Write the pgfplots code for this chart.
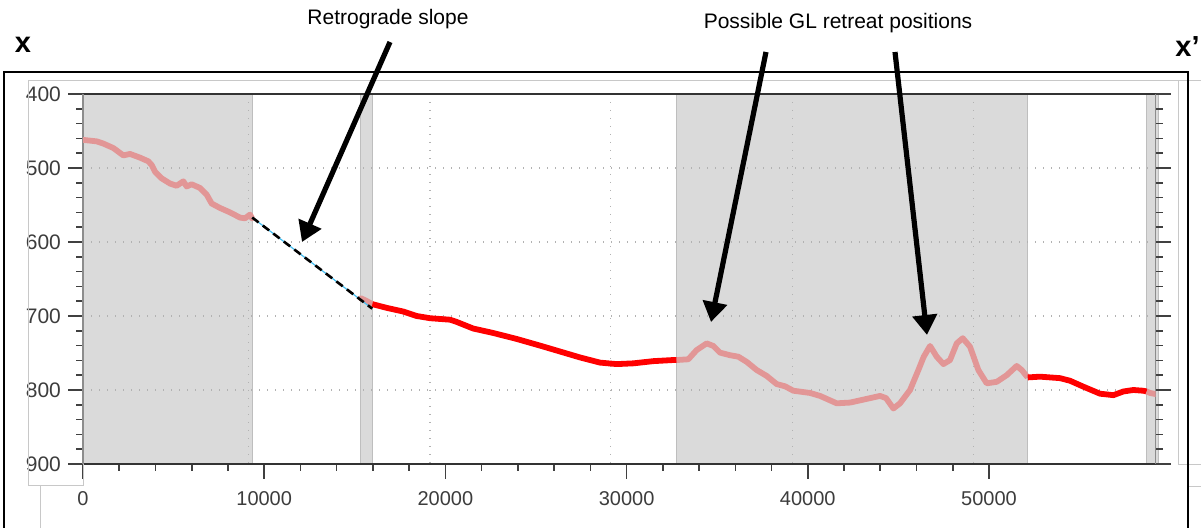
\documentclass[border=0pt]{standalone}
\usepackage{fontspec}
\setmainfont{Liberation Sans}
\usepackage{pgfplots}
\pgfplotsset{compat=1.18}
\usetikzlibrary{arrows.meta}

\definecolor{bandfill}{RGB}{218,218,218}
\definecolor{bandedge}{RGB}{190,190,190}
\definecolor{pinkline}{RGB}{226,150,150}
\definecolor{tickgray}{RGB}{60,60,60}
\definecolor{boxgray}{RGB}{200,200,200}
\definecolor{lightblue}{RGB}{70,190,240}

\begin{document}
\begin{tikzpicture}
\begin{axis}[
  at={(41.5pt,-232pt)}, anchor=south west,
  scale only axis, width=536.25pt, height=185pt,
  xmin=0, xmax=59190, ymin=400, ymax=900, y dir=reverse,
  set layers,
  separate axis lines,
  x axis line style={draw=black!80, line width=0.9pt},
  y axis line style={draw=black!45, line width=0.6pt},
  xtick={0,10000,...,50000},
  ytick={400,500,...,900},
  minor x tick num=4, minor y tick num=4,
  xtick pos=left, ytick pos=both,
  tick align=outside,
  major tick length=7.5pt, minor tick length=3.5pt,
  tick style={draw=black!75, line width=0.8pt},
  ymajorgrids,
  grid style={draw=gray!60, line width=0.7pt, dash pattern=on 0.7pt off 3.3pt},
  extra x ticks={9140,19140,29120,39140,49140},
  extra x tick labels={},
  extra x tick style={grid=major, tick style={draw=none}},
  xticklabel style={font=\fontsize{10}{12}\selectfont, text=tickgray, yshift=-2.5pt},
  yticklabel style={font=\fontsize{10.5}{12}\selectfont, text=tickgray},
  /pgf/number format/assume math mode=true,
  /pgf/number format/1000 sep={},
  scaled x ticks=false,
]
% shaded bands
\addplot[fill=bandfill, draw=bandedge, line width=0.5pt, on layer=axis background]
  coordinates {(0,400)(9344,400)(9344,900)(0,900)} -- cycle;
\addplot[fill=bandfill, draw=bandedge, line width=0.5pt, on layer=axis background]
  coordinates {(15326,400)(15967,400)(15967,900)(15326,900)} -- cycle;
\addplot[fill=bandfill, draw=bandedge, line width=0.5pt, on layer=axis background]
  coordinates {(32766,400)(52137,400)(52137,900)(32766,900)} -- cycle;
\addplot[fill=bandfill, draw=bandedge, line width=0.5pt, on layer=axis background]
  coordinates {(58705,400)(59330,400)(59330,900)(58705,900)} -- cycle;

% profile, faded inside bands
\addplot[pinkline, line width=2.9pt, line join=round, line cap=round] coordinates {
(0,462)(755,464)(1122,467)(1674,473)(2226,483)(2594,481)(3146,486)(3606,491)
(3790,496)(3974,505)(4342,514)(4801,521)(5170,524)(5537,518)(5721,525)(5997,522)
(6457,527)(6825,536)(7101,548)(7561,554)(8113,560)(8665,567)(8941,568)(9217,563)(9330,568)};
\addplot[pinkline, line width=2.9pt, line cap=round] coordinates {
(15330,676)(15600,679)(15970,684)};
\addplot[red, line width=2.9pt, line join=round] coordinates {
(15970,684)(16761,689)(17676,694)(18411,700)(19151,703)(20255,705)(20623,708)
(21543,717)(22646,723)(23934,731)(25222,740)(26326,748)(27429,756)(28533,763)
(29455,765)(30370,764)(31474,761)(32578,759.5)(32766,759.5)};
\addplot[pinkline, line width=2.9pt, line join=round] coordinates {
(32766,759.5)(33407,758.5)(33868,746)(34420,737)(34788,740.5)(35156,749.5)(35708,753)
(36168,755)(36628,762)(37180,773)(37732,781)(38284,792)(38744,795)(39204,801)
(40125,804)(40677,808)(41597,818)(42333,817)(43068,813)(43988,808)(44320,811)
(44724,825)(45092,818)(45644,800)(46104,773)(46400,755)(46748,740.5)(47116,755)
(47484,765)(47852,759.5)(48220,737)(48551,730)(48953,741.5)(49413,773)(49874,791)
(50426,789)(50978,780)(51530,767.5)(51806,773)(52137,783)};
\addplot[red, line width=2.9pt, line join=round] coordinates {
(52137,783)(52816,782)(53920,784)(54472,787.5)(55208,795.5)(56128,805)(56864,807)
(57416,802)(57968,800)(58520,801)(58705,802)};
\addplot[pinkline, line width=2.9pt, line join=round] coordinates {
(58705,802)(58888,804)(59300,806)};

% retrograde slope segment
\addplot[lightblue, line width=0.6pt] coordinates {(9340,567)(15960,690)};
\addplot[black, line width=1.3pt, dash pattern=on 4pt off 2.6pt] coordinates {(9340,567)(15960,690)};
\end{axis}

\begin{scope}[x=0.5pt,y=-0.5pt]
\draw[boxgray, line width=0.5pt] (28,486) -- (28,81) -- (1201,81);
\draw[boxgray, line width=0.5pt] (28,486) -- (83,486) -- (83,464);
\draw[boxgray, line width=0.5pt] (40,486) -- (40,528);
\draw[boxgray, line width=0.5pt] (1178,81) -- (1178,465) -- (1201,465);
\draw[boxgray, line width=0.5pt] (1188,487) -- (1201,487);
\draw[black, line width=1.3pt] (4,540) -- (4,72) -- (1188,72) -- (1188,540);
\node[font=\bfseries\fontsize{14.5}{16}\selectfont] at (23,45) {x};
\node[font=\bfseries\fontsize{14.5}{16}\selectfont, anchor=east, inner sep=0pt] at (1200,47) {x'};
\node[font=\fontsize{10.5}{12}\selectfont] at (388,19) {Retrograde slope};
\node[font=\fontsize{10.5}{12}\selectfont] at (838,23) {Possible GL retreat positions};
\draw[line width=2.6pt, -{Triangle[width=12pt,length=10pt]}] (390,42) -- (302,242);
\draw[line width=2.6pt, -{Triangle[width=12pt,length=10pt]}] (766,52) -- (711,322);
\draw[line width=2.6pt, -{Triangle[width=12pt,length=10pt]}] (895,52) -- (927,335);
\end{scope}
\pgfresetboundingbox
\path[use as bounding box] (0,0) rectangle (600.5pt,-264pt);
\end{tikzpicture}
\end{document}
